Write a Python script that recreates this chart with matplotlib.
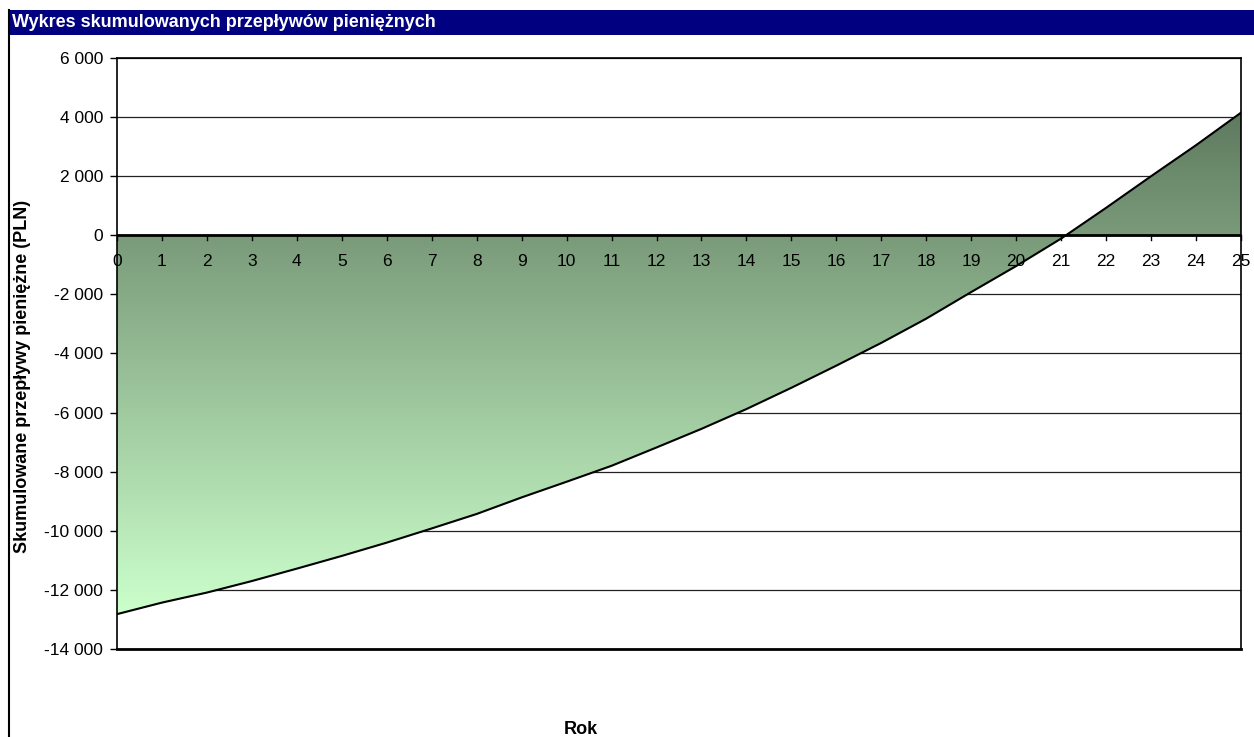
import numpy as np
import matplotlib
matplotlib.use("Agg")
import matplotlib.pyplot as plt
from matplotlib.colors import LinearSegmentedColormap
from matplotlib.patches import Rectangle
from matplotlib.lines import Line2D
from matplotlib.ticker import FuncFormatter, MultipleLocator

plt.rcParams['font.family'] = ['Liberation Sans', 'DejaVu Sans']

# dane
lata = list(range(0, 26))
skumulowane = [-12820, -12430, -12090, -11700, -11280, -10850, -10400, -9920,
               -9430, -8870, -8340, -7800, -7180, -6550, -5880, -5160,
               -4410, -3640, -2820, -1920, -1040, -110, 930, 2000,
               3050, 4150]
tytul = "Wykres skumulowanych przepływów pieniężnych"
os_y = "Skumulowane przepływy pieniężne (PLN)"
os_x = "Rok"

W, H = 1254, 737
fig = plt.figure(figsize=(W / 100, H / 100), dpi=100)
ax = fig.add_axes([117 / W, 1 - 649 / H, (1241 - 117) / W, (649 - 58) / H])

x = np.array(lata)
y = np.array(skumulowane)

# gradient wypelnienia
poly = ax.fill_between(x, y, 0, facecolor='none', edgecolor='none', zorder=2)
cmap = LinearSegmentedColormap.from_list('zielony', ['#ccffcc', '#5f7a5f'])
grad = np.linspace(0, 1, 256).reshape(-1, 1)
im = ax.imshow(grad, extent=[x.min(), x.max(), y.min(), y.max()], aspect='auto',
               cmap=cmap, origin='lower', zorder=2, interpolation='bilinear')
im.set_clip_path(poly.get_paths()[0], transform=ax.transData)
ax.plot(x, y, color='black', lw=1.5, zorder=3)

ax.set_xlim(0, 25)
ax.set_ylim(-14000, 6000)
ax.yaxis.set_major_locator(MultipleLocator(2000))
ax.yaxis.set_major_formatter(FuncFormatter(lambda v, p: f"{int(v):,}".replace(",", " ")))
ax.grid(axis='y', color='#222222', lw=0.9, zorder=1)
ax.set_axisbelow(True)

ax.spines['bottom'].set_visible(False)
ax.axhline(0, color='black', lw=2, zorder=4)
ax.axhline(-14000, color='black', lw=2, zorder=4, clip_on=False)
for s in ['left', 'right', 'top']:
    ax.spines[s].set_linewidth(1.2)

ax.tick_params(axis='y', direction='out', length=5, width=1, labelsize=12.5, pad=5)

# os x na poziomie zera
ax.set_xticks([])
for r in lata:
    ax.plot([r, r], [0, -170], color='black', lw=1, zorder=5, clip_on=False)
    ax.text(r, -900, str(r), ha='center', va='center', fontsize=12.5, zorder=6)

fig.text(23 / W, 1 - 376 / H, os_y, rotation=90, ha='center', va='center',
         fontsize=13, fontweight='bold')
fig.text(581 / W, 1 - 729 / H, os_x, ha='center', va='center', fontsize=13,
         fontweight='bold')

# pasek tytulu
fig.patches.append(Rectangle((8 / W, 1 - 35 / H), 1 - 8 / W, 25 / H,
                             transform=fig.transFigure, facecolor='#000080',
                             edgecolor='none'))
fig.text(12 / W, 1 - 22.5 / H, tytul, color='white', fontsize=13,
         fontweight='bold', ha='left', va='center')
fig.lines.append(Line2D([8.5 / W, 8.5 / W], [0, 1 - 10 / H], color='black',
                        lw=1.5, transform=fig.transFigure))

fig.savefig('out.png', dpi=100, facecolor='white')
